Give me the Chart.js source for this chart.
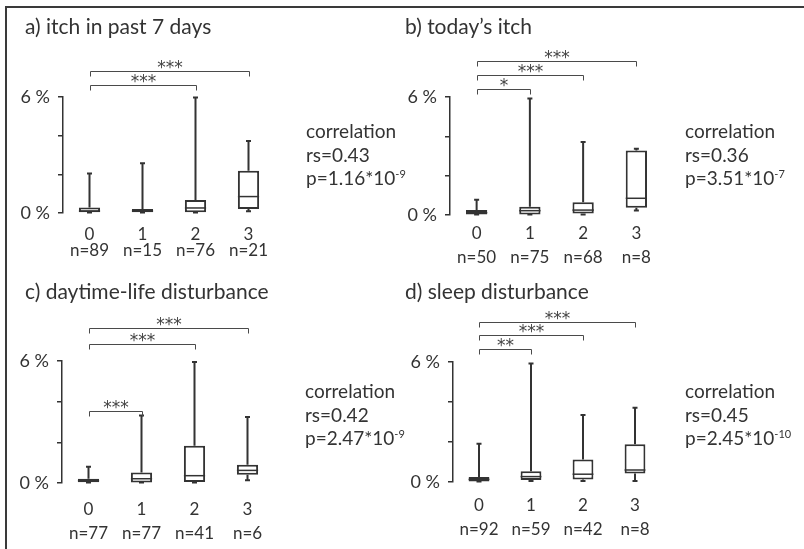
<!DOCTYPE html>
<html>
<head>
<meta charset="utf-8">
<script src="https://cdn.jsdelivr.net/npm/chart.js@4.4.1/dist/chart.umd.min.js"></script>
<style>
  html, body { margin: 0; padding: 0; background: #fff; }
  #wrap { position: relative; width: 804px; height: 549px; overflow: hidden; font-family: Lato, "Open Sans", sans-serif; color: #333; }
  .frame-top { position: absolute; left: 5px; top: 6px; width: 799px; height: 2px; background: #3a3a3a; }
  .frame-left { position: absolute; left: 5px; top: 6px; width: 2px; height: 543px; background: #3a3a3a; }
  canvas { position: absolute; }
  .title { position: absolute; font-size: 21px; line-height: 24px; white-space: nowrap; }
  .corr { position: absolute; font-size: 19px; line-height: 23.5px; white-space: nowrap; }
  .corr sup { font-size: 11px; vertical-align: 7px; line-height: 0; }
</style>
</head>
<body>
<div id="wrap">
  <div class="frame-top"></div>
  <div class="frame-left"></div>
  <canvas id="ca" width="400" height="275" style="left:0;top:0"></canvas>
  <canvas id="cb" width="400" height="275" style="left:400px;top:0"></canvas>
  <canvas id="cc" width="400" height="274" style="left:0;top:275px"></canvas>
  <canvas id="cd" width="404" height="274" style="left:400px;top:275px"></canvas>
  <div class="title" style="left:25px;top:14px">a) itch in past 7 days</div>
  <div class="title" style="left:405px;top:14px">b) today’s itch</div>
  <div class="title" style="left:25px;top:279px">c) daytime-life disturbance</div>
  <div class="title" style="left:405px;top:279px">d) sleep disturbance</div>
  <div class="corr" style="left:306px;top:119px">correlation<br>rs=0.43<br>p=1.16*10<sup>-9</sup></div>
  <div class="corr" style="left:685px;top:119px">correlation<br>rs=0.36<br>p=3.51*10<sup>-7</sup></div>
  <div class="corr" style="left:305px;top:379px">correlation<br>rs=0.42<br>p=2.47*10<sup>-9</sup></div>
  <div class="corr" style="left:685px;top:379px">correlation<br>rs=0.45<br>p=2.45*10<sup>-10</sup></div>
</div>
<script>
// ---------- data ----------
const categories = ['0', '1', '2', '3'];
const yTickValues = [0, 6];

// a) itch in past 7 days
const nA = [89, 15, 76, 21];
const lowA = [0, 0, 0, 0.07];
const q1A = [0, 0, 0.04, 0.21];
const medA = [0.1, 0.1, 0.26, 0.85];
const q3A = [0.28, 0.21, 0.67, 2.19];
const highA = [2.07, 2.6, 6.0, 3.75];
const sigA = [[0, 2, 6.62, '***'], [0, 3, 7.35, '***']];

// b) today's itch
const nB = [50, 75, 68, 8];
const lowB = [0, 0, 0, 0.2];
const q1B = [0.02, 0.03, 0.08, 0.37];
const medB = [0.12, 0.22, 0.25, 0.85];
const q3B = [0.25, 0.42, 0.65, 3.28];
const highB = [0.8, 5.95, 3.74, 3.4];
const sigB = [[0, 1, 6.4, '*'], [0, 2, 7.1, '***'], [0, 3, 7.85, '***']];

// c) daytime-life disturbance
const nC = [77, 77, 41, 6];
const lowC = [0, 0, 0, 0.11];
const q1C = [0, 0.03, 0.05, 0.41];
const medC = [0.11, 0.21, 0.36, 0.62];
const q3C = [0.21, 0.52, 1.83, 0.9];
const highC = [0.82, 3.35, 5.97, 3.27];
const sigC = [[0, 1, 3.54, '***'], [0, 2, 6.86, '***'], [0, 3, 7.6, '***']];

// d) sleep disturbance
const nD = [92, 59, 42, 8];
const lowD = [0, 0.02, 0.03, 0.03];
const q1D = [0.02, 0.1, 0.13, 0.42];
const medD = [0.13, 0.27, 0.39, 0.6];
const q3D = [0.25, 0.54, 1.12, 1.89];
const highD = [1.94, 5.95, 3.37, 3.74];
const sigD = [[0, 1, 6.67, '**'], [0, 2, 7.37, '***'], [0, 3, 8.0, '***']];

// ---------- styling / layout ----------
const INK = '#333';
const FONT = 'Lato, "Open Sans", sans-serif';
const Y_AXIS_W = 50, X_AXIS_H = 60;

const boxPlugin = {
  id: 'boxWhisker',
  beforeDatasetsDraw(chart) {
    const o = chart.options.plugins.boxWhisker;
    const { ctx } = chart;
    const x = chart.scales.x, y = chart.scales.y;
    ctx.save();
    ctx.strokeStyle = INK;
    ctx.lineWidth = 2;
    ctx.lineCap = 'butt';
    o.q1.forEach((_, i) => {
      const cx = x.getPixelForValue(i);
      const pHi = y.getPixelForValue(o.high[i]);
      const pQ3 = y.getPixelForValue(o.q3[i]);
      const pLo = y.getPixelForValue(o.low[i]);
      const pQ1 = y.getPixelForValue(o.q1[i]);
      ctx.beginPath();
      ctx.moveTo(cx, pHi); ctx.lineTo(cx, pQ3);
      ctx.moveTo(cx, pLo); ctx.lineTo(cx, pQ1);
      ctx.moveTo(cx - 2.5, pHi + 0.5); ctx.lineTo(cx + 2.5, pHi + 0.5);
      ctx.moveTo(cx - 2.5, pLo - 0.5); ctx.lineTo(cx + 2.5, pLo - 0.5);
      ctx.stroke();
    });
    ctx.restore();
  },
  afterDatasetsDraw(chart) {
    const o = chart.options.plugins.boxWhisker;
    const { ctx } = chart;
    const x = chart.scales.x, y = chart.scales.y;
    const meta = chart.getDatasetMeta(0);
    ctx.save();
    ctx.strokeStyle = INK;
    ctx.lineWidth = 1.5;
    o.med.forEach((m, i) => {
      const bar = meta.data[i];
      const half = bar.width / 2;
      const cx = x.getPixelForValue(i);
      const py = y.getPixelForValue(m);
      ctx.beginPath();
      ctx.moveTo(cx - half, py); ctx.lineTo(cx + half, py);
      ctx.stroke();
    });
    // significance brackets
    ctx.strokeStyle = '#4a4a4a';
    ctx.lineWidth = 1;
    ctx.fillStyle = '#444';
    ctx.font = '17px "DejaVu Sans", sans-serif';
    ctx.textAlign = 'center';
    ctx.textBaseline = 'alphabetic';
    o.sig.forEach(([a, b, lvl, label]) => {
      const x1 = Math.round(x.getPixelForValue(a)) + 0.5;
      const x2 = Math.round(x.getPixelForValue(b)) + 0.5;
      const py = Math.round(y.getPixelForValue(lvl)) + 0.5;
      ctx.beginPath();
      ctx.moveTo(x1, py + 5); ctx.lineTo(x1, py); ctx.lineTo(x2, py); ctx.lineTo(x2, py + 5);
      ctx.stroke();
      ctx.fillText(label, (x1 + x2) / 2, py + 1);
    });
    ctx.restore();
  }
};

function makePanel(id, L, R, T, B, W, H, lh, pad, n, low, q1, med, q3, high, sig) {
  const labels = categories.map((c, i) => [c, 'n=' + n[i]]);
  new Chart(document.getElementById(id), {
    type: 'bar',
    data: {
      labels,
      datasets: [{
        data: q1.map((v, i) => [v, q3[i]]),
        backgroundColor: '#fff',
        borderColor: INK,
        borderWidth: 2,
        borderSkipped: false,
        barPercentage: 0.4,
        categoryPercentage: 1
      }]
    },
    options: {
      responsive: false,
      animation: false,
      devicePixelRatio: 1,
      layout: { padding: { left: L - Y_AXIS_W, right: W - R, top: T, bottom: H - B - X_AXIS_H } },
      plugins: {
        legend: { display: false },
        tooltip: { enabled: false },
        boxWhisker: { low, q1, med, q3, high, sig }
      },
      scales: {
        x: {
          grid: { display: false, drawTicks: false },
          border: { display: false },
          afterFit(s) { s.height = X_AXIS_H; },
          ticks: {
            color: INK, padding: pad, maxRotation: 0, autoSkip: false,
            font: { family: FONT, size: 17, lineHeight: lh }
          }
        },
        y: {
          min: 0, max: 6,
          afterFit(s) { s.width = Y_AXIS_W; },
          grid: { drawOnChartArea: false, drawTicks: true, tickLength: 5, color: INK, lineWidth: 1.5 },
          border: { display: true, color: INK, width: 1.5 },
          ticks: {
            stepSize: 1, color: INK, padding: 8,
            font: { family: FONT, size: 18 },
            callback: v => (yTickValues.includes(v) ? v + ' %' : '')
          }
        }
      }
    },
    plugins: [boxPlugin]
  });
}

makePanel('ca', 63, 275, 97, 213, 400, 275, 0.95, 13, nA, lowA, q1A, medA, q3A, highA, sigA);
makePanel('cb', 50, 263, 97, 215, 400, 275, 1.4, 7, nB, lowB, q1B, medB, q3B, highB, sigB);
makePanel('cc', 62, 274, 86, 208, 400, 274, 1.38, 15, nC, lowC, q1C, medC, q3C, highC, sigC);
makePanel('cd', 53, 261, 87, 207, 404, 274, 1.45, 11, nD, lowD, q1D, medD, q3D, highD, sigD);
</script>
</body>
</html>
